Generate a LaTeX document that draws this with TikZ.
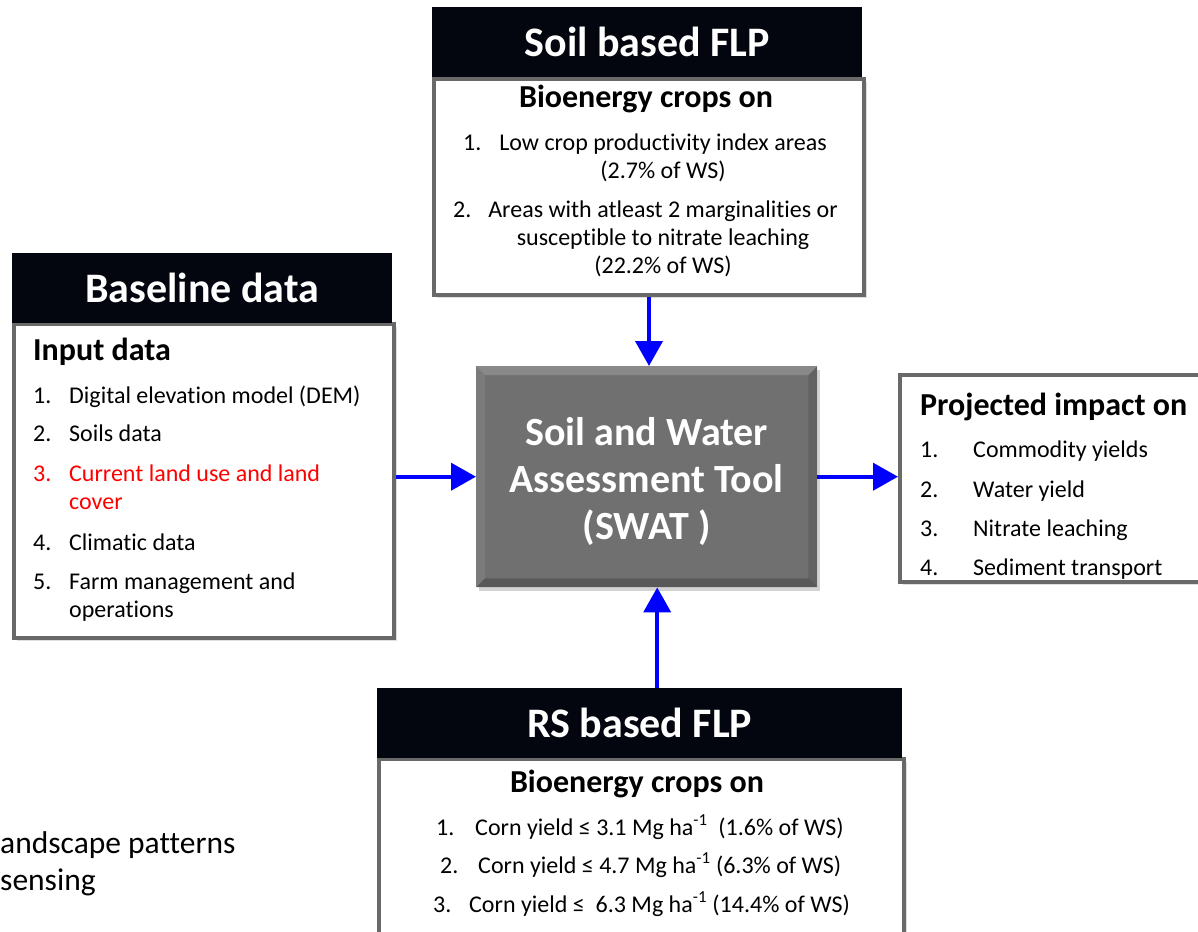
\documentclass[tikz,border=0pt]{standalone}
\usepackage{fontspec}
\setmainfont{Carlito}[Ligatures=NoCommon]
\usetikzlibrary{arrows.meta,positioning,shadows}
\definecolor{hdrblack}{RGB}{3,6,14}
\definecolor{framegray}{RGB}{105,105,105}
\definecolor{swatgray}{RGB}{112,112,112}
\definecolor{flowblue}{RGB}{0,0,255}
\definecolor{itemred}{RGB}{255,0,0}
\newcommand{\hdrsize}{\fontsize{42}{48}\selectfont\bfseries}
\newcommand{\subsize}{\fontsize{32}{37}\selectfont\bfseries}
\newcommand{\itemsize}{\fontsize{24}{28}\selectfont}
\newcommand{\swatsize}{\fontsize{40}{47}\selectfont\bfseries}
\newcommand{\leftsize}{\fontsize{31.5}{37}\selectfont}

\begin{document}
\begin{tikzpicture}[x=1pt, y=-1pt,
  hdr/.style={fill=hdrblack, text=white, font=\hdrsize, minimum height=70pt, inner sep=0pt, anchor=north west},
  panel/.style={draw=framegray, line width=4pt, fill=white, inner sep=0pt, anchor=north west,
    drop shadow={shadow xshift=3pt, shadow yshift=-3pt, opacity=0.25}},
  subhd/.style={font=\subsize, inner sep=0pt, anchor=base},
  itm/.style={font=\itemsize, inner sep=0pt, anchor=base west},
  flow/.style={flowblue, line width=4pt, -{Triangle[length=25pt,width=27pt]}}]
\useasboundingbox (0,0) rectangle (1198,931);

% baseline data
\node[panel, minimum width=380pt, minimum height=314pt] (basebody) at (12,322) {};
\node[hdr, minimum width=380pt] (basehdr) at (12,253) {Baseline data};
\node[subhd, anchor=base west] (inputhd) at (33,360) {Input data};
\node[itm] (b1n) at (33,403) {1.};
\node[itm] (b1) at (69,403) {Digital elevation model (DEM)};
\node[itm] (b2n) at (33,441) {2.};
\node[itm] (b2) at (69,441) {Soils data};
\node[itm, text=itemred] (b3n) at (33,481) {3.};
\node[itm, text=itemred, anchor=north west, align=left] (b3) at (69,461.4) {\strut Current land use and land\\cover};
\node[itm] (b4n) at (33,550) {4.};
\node[itm] (b4) at (69,550) {Climatic data};
\node[itm] (b5n) at (33,589) {5.};
\node[itm, anchor=north west, align=left] (b5) at (69,569.4) {\strut Farm management and\\operations};

% soil based FLP
\node[panel, minimum width=430pt, minimum height=216pt] (soilbody) at (432,77) {};
\node[hdr, minimum width=430pt] (soilhdr) at (432,7) {Soil based FLP};
\node[subhd] (soilsub) at (646,108) {Bioenergy crops on};
\node[itm] (s1n) at (463,150) {1.};
\node[itm, anchor=north, align=center] (s1) at (663,130.4) {\strut Low crop productivity index areas\\(2.7\% of WS)};
\node[itm] (s2n) at (453,217) {2.};
\node[itm, anchor=north, align=center] (s2) at (663,197.4) {\strut Areas with atleast 2 marginalities or\\susceptible to nitrate leaching\\(22.2\% of WS)};

% SWAT
\node[fill=swatgray, text=white, font=\swatsize, align=center, anchor=north west, inner sep=0pt,
  minimum width=341pt, minimum height=221pt,
  drop shadow={shadow xshift=3pt, shadow yshift=-4pt, opacity=0.35}] (swat) at (476,366)
  {\rule{0pt}{37pt}Soil and Water\\Assessment Tool\\(SWAT )};
\fill[white, opacity=0.18] (swat.north west) -- (swat.north east) -- ([shift={(-9,9)}]swat.north east) -- ([shift={(9,9)}]swat.north west) -- cycle;
\fill[white, opacity=0.08] (swat.north west) -- ([shift={(9,9)}]swat.north west) -- ([shift={(9,-9)}]swat.south west) -- (swat.south west) -- cycle;
\fill[black, opacity=0.2] (swat.south west) -- (swat.south east) -- ([shift={(-9,-9)}]swat.south east) -- ([shift={(9,-9)}]swat.south west) -- cycle;
\fill[black, opacity=0.12] (swat.north east) -- ([shift={(-9,9)}]swat.north east) -- ([shift={(-9,-9)}]swat.south east) -- (swat.south east) -- cycle;

% projected impact
\node[panel, minimum width=320pt, minimum height=207pt] (impact) at (898,373) {};
\node[subhd, anchor=base west] (impactsub) at (920,415) {Projected impact on};
\node[itm] (p1n) at (920,457) {1.};
\node[itm] (p1) at (973,457) {Commodity yields};
\node[itm] (p2n) at (920,497) {2.};
\node[itm] (p2) at (973,497) {Water yield};
\node[itm] (p3n) at (920,536) {3.};
\node[itm] (p3) at (973,536) {Nitrate leaching};
\node[itm] (p4n) at (920,575) {4.};
\node[itm] (p4) at (973,575) {Sediment transport};

% RS based FLP
\node[panel, minimum width=525pt, minimum height=200pt] (rsbody) at (377,757) {};
\node[hdr, minimum width=525pt] (rshdr) at (377,688) {RS based FLP};
\node[subhd] (rssub) at (637,792) {Bioenergy crops on};
\node[itm] (r1n) at (436,835) {1.};
\node[itm] (r1) at (475,835) {Corn yield ≤ 3.1 Mg ha\textsuperscript{-1}\ \ (1.6\% of WS)};
\node[itm] (r2n) at (440,873) {2.};
\node[itm] (r2) at (478,873) {Corn yield ≤ 4.7 Mg ha\textsuperscript{-1} (6.3\% of WS)};
\node[itm] (r3n) at (433,912) {3.};
\node[itm] (r3) at (469,912) {Corn yield ≤\ \ 6.3 Mg ha\textsuperscript{-1} (14.4\% of WS)};

% cut-off text on the left
\node[itm, font=\leftsize] (lpat) at (0,853) {andscape patterns};
\node[itm, font=\leftsize] (lsens) at (0,890) {sensing};

% connectors
\draw[flow] (soilbody.south) -- (soilbody.south |- swat.north);
\draw[flow] (basebody.east |- swat.west) -- (swat.west);
\draw[flow] (swat.east) -- (impact.west |- swat.east);
\draw[flow] ([xshift=17.5pt]rshdr.north) -- ([xshift=17.5pt]rshdr.north |- swat.south);
\end{tikzpicture}
\end{document}
